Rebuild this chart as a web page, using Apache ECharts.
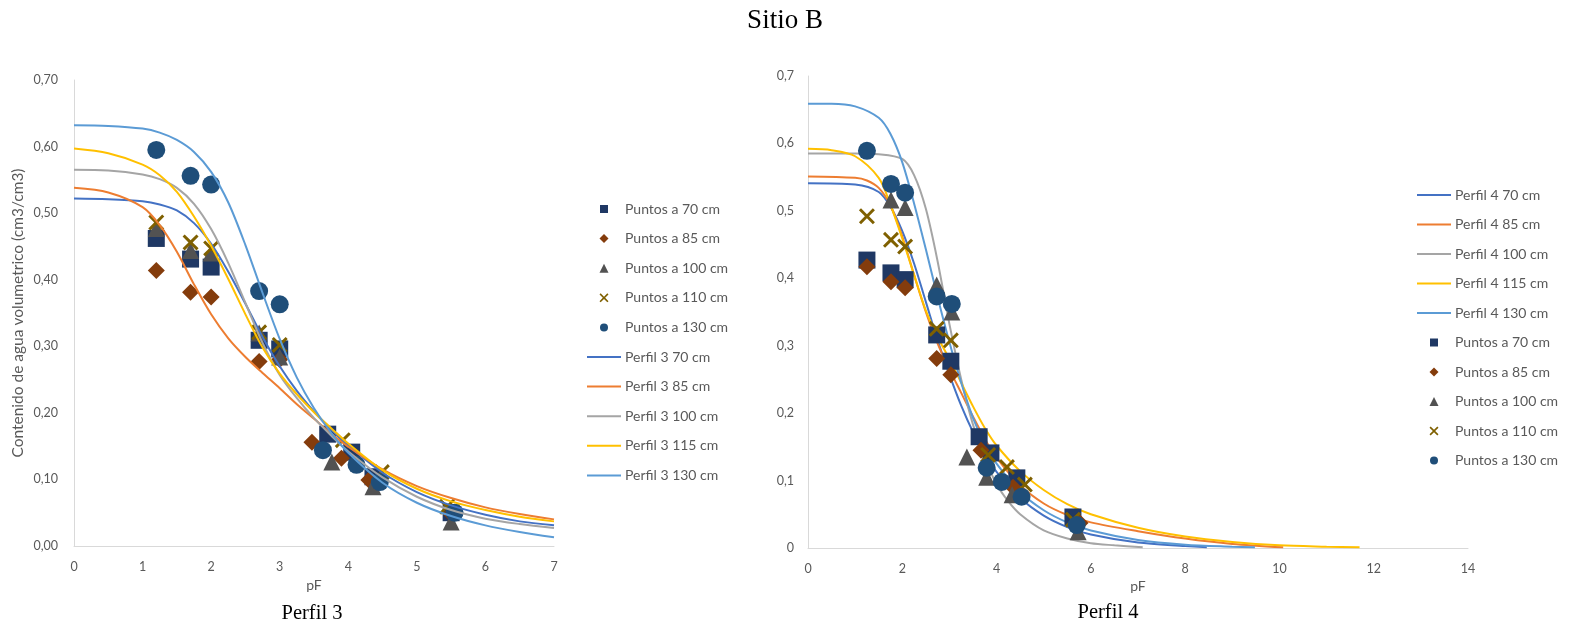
<!DOCTYPE html>
<html>
<head>
<meta charset="utf-8">
<script src="https://cdn.jsdelivr.net/npm/echarts@6/dist/echarts.min.js"></script>
<style>
  html, body { margin: 0; padding: 0; background: #fff; }
  #chart { width: 1570px; height: 630px; }
</style>
</head>
<body>
<div id="chart"></div>
<script>
// ---- Perfil 3: measured points [pF, theta] ----
const p3Pts70  = [[1.2,0.462],[1.7,0.431],[2.0,0.419],[2.7,0.309],[3.0,0.296],[3.7,0.168],[4.05,0.141],[4.36,0.104],[5.5,0.050]];
const p3Pts85  = [[1.2,0.414],[1.7,0.381],[2.0,0.374],[2.7,0.277],[3.0,0.280],[3.47,0.156],[3.9,0.132],[4.3,0.099],[5.5,0.048]];
const p3Pts100 = [[1.2,0.477],[1.7,0.444],[2.0,0.440],[2.7,0.320],[3.0,0.284],[3.76,0.126],[4.36,0.089],[5.5,0.036]];
const p3Pts110 = [[1.2,0.486],[1.7,0.456],[2.0,0.447],[2.7,0.321],[3.0,0.302],[3.92,0.159],[4.49,0.111],[5.44,0.059]];
const p3Pts130 = [[1.2,0.595],[1.7,0.556],[2.0,0.543],[2.7,0.383],[3.0,0.363],[3.63,0.144],[4.12,0.122],[4.46,0.096],[5.55,0.050]];

// ---- Perfil 3: fitted retention curves ----
const p3Grid = [0,0.5,1,1.25,1.5,1.75,2,2.25,2.5,2.75,3,3.25,3.5,3.75,4,4.5,5,5.5,6,6.5,7];
const p3Fit70  = [.522,.521,.518,.513,.504,.485,.454,.412,.364,.314,.270,.233,.202,.175,.151,.110,.081,.061,.047,.037,.031];
const p3Fit85  = [.538,.531,.509,.482,.442,.393,.348,.312,.284,.260,.237,.213,.191,.169,.149,.115,.090,.072,.058,.048,.040];
const p3Fit100 = [.565,.564,.558,.551,.538,.514,.476,.425,.365,.305,.257,.222,.192,.166,.142,.103,.074,.054,.041,.033,.027];
const p3Fit115 = [.597,.590,.573,.557,.532,.495,.451,.401,.348,.298,.259,.228,.201,.177,.154,.114,.086,.067,.054,.044,.037];
const p3Fit130 = [.632,.631,.627,.621,.610,.592,.562,.516,.452,.380,.311,.253,.207,.170,.140,.095,.065,.045,.031,.021,.013];

// ---- Perfil 4: measured points [pF, theta] ----
const p4Pts70  = [[1.25,0.427],[1.76,0.408],[2.06,0.398],[2.73,0.316],[3.03,0.277],[3.63,0.165],[3.88,0.141],[4.43,0.104],[5.62,0.046]];
const p4Pts85  = [[1.25,0.417],[1.76,0.395],[2.06,0.386],[2.73,0.281],[3.03,0.257],[3.67,0.145],[4.35,0.090],[5.77,0.037]];
const p4Pts100 = [[1.76,0.516],[2.06,0.505],[2.73,0.390],[3.05,0.350],[3.37,0.135],[3.79,0.105],[4.33,0.079],[5.73,0.024]];
const p4Pts110 = [[1.25,0.492],[1.76,0.457],[2.06,0.447],[2.73,0.325],[3.03,0.308],[3.82,0.138],[4.22,0.120],[4.6,0.094],[5.62,0.042]];
const p4Pts130 = [[1.25,0.589],[1.76,0.540],[2.06,0.527],[2.73,0.373],[3.05,0.362],[3.79,0.119],[4.11,0.098],[4.53,0.076],[5.7,0.034]];

// ---- Perfil 4: fitted retention curves ----
const p4X70   = [0,1,1.5,1.75,2,2.25,2.5,2.75,3,3.25,3.5,3.75,4,4.5,5,5.5,6,7,8,8.46];
const p4Fit70 = [.541,.539,.528,.506,.470,.422,.365,.308,.257,.211,.172,.140,.113,.074,.048,.031,.020,.008,.003,.001];
const p4X85   = [0,1,1.25,1.5,1.75,2,2.25,2.5,2.75,3,3.25,3.5,3.75,4,4.5,5,5.5,6,7,8,9,10.08];
const p4Fit85 = [.551,.549,.545,.534,.508,.462,.405,.350,.303,.265,.230,.195,.162,.134,.093,.066,.049,.038,.025,.014,.006,.001];
const p4X100   = [0,1,1.5,2,2.25,2.5,2.75,3,3.25,3.5,3.75,4,4.25,4.5,5,5.5,6,6.5,7.1];
const p4Fit100 = [.585,.585,.584,.577,.553,.503,.425,.332,.250,.183,.133,.095,.069,.050,.026,.014,.007,.004,.001];
const p4X115   = [0,0.5,1,1.5,1.75,2,2.25,2.5,2.75,3,3.25,3.5,3.75,4,4.5,5,5.5,6,7,8,9,10,11,11.7];
const p4Fit115 = [.592,.590,.581,.549,.509,.459,.405,.352,.313,.280,.245,.210,.178,.152,.114,.086,.065,.050,.030,.017,.009,.004,.002,.001];
const p4X130   = [0,0.5,1,1.5,1.75,2,2.25,2.5,2.75,3,3.25,3.5,3.75,4,4.5,5,5.5,6,7,8,9,9.48];
const p4Fit130 = [.659,.659,.655,.638,.614,.572,.511,.443,.372,.305,.245,.193,.154,.125,.083,.056,.038,.026,.012,.005,.002,.001];

// ---- labels ----
const pointNames = ['Puntos a 70 cm','Puntos a 85 cm','Puntos a 100 cm','Puntos a 110 cm','Puntos a 130 cm'];
const p3CurveNames = ['Perfil 3 70 cm','Perfil 3 85 cm','Perfil 3 100 cm','Perfil 3 115 cm','Perfil 3 130 cm'];
const p4CurveNames = ['Perfil 4 70 cm','Perfil 4 85 cm','Perfil 4 100 cm','Perfil 4 115 cm','Perfil 4 130 cm'];

// ---- styling ----
const curveColors = ['#4472C4','#ED7D31','#A5A5A5','#FFC000','#5B9BD5'];
const pointColors = ['#1F3864','#843C0C','#525252','#7F6000','#1F4E79'];
const symX = 'path://M0,1.3L1.3,0L5,3.7L8.7,0L10,1.3L6.3,5L10,8.7L8.7,10L5,6.3L1.3,10L0,8.7L3.7,5Z';
const pointSymbols = ['rect','diamond','triangle',symX,'circle'];
const pointSizes = [17,17,17,16,18];
const legendSizes = [8,9,9,9,8];
const sansFont = 'Lato, "Open Sans", "Liberation Sans", sans-serif';
const serifFont = '"Liberation Serif", "DejaVu Serif", serif';
const textGrey = '#595959';

function scatterSeries(name, data, axisIdx, k, z) {
  return {
    type: 'scatter', name, data,
    xAxisIndex: axisIdx, yAxisIndex: axisIdx,
    symbol: pointSymbols[k], symbolSize: pointSizes[k],
    itemStyle: { color: pointColors[k], opacity: 1 },
    emphasis: { disabled: true }, z
  };
}
function curveSeries(name, xs, ys, axisIdx, k, z) {
  return {
    type: 'line', name,
    data: xs.map((x, i) => [x, ys[i]]),
    xAxisIndex: axisIdx, yAxisIndex: axisIdx,
    symbol: 'none', showSymbol: false,
    smooth: 0.3,
    lineStyle: { color: curveColors[k], width: 2 },
    itemStyle: { color: curveColors[k] },
    emphasis: { disabled: true }, z
  };
}

const p3Pts = [p3Pts70, p3Pts85, p3Pts100, p3Pts110, p3Pts130];
const p3Fits = [p3Fit70, p3Fit85, p3Fit100, p3Fit115, p3Fit130];
const p4Pts = [p4Pts70, p4Pts85, p4Pts100, p4Pts110, p4Pts130];
const p4Xs = [p4X70, p4X85, p4X100, p4X115, p4X130];
const p4Fits = [p4Fit70, p4Fit85, p4Fit100, p4Fit115, p4Fit130];

const series = [];
// Perfil 3: points underneath, curves on top
pointNames.forEach((n, k) => series.push(scatterSeries(n, p3Pts[k], 0, k, 2)));
p3CurveNames.forEach((n, k) => series.push(curveSeries(n, p3Grid, p3Fits[k], 0, k, 3)));
// Perfil 4: curves underneath, points on top
p4CurveNames.forEach((n, k) => series.push(curveSeries(n, p4Xs[k], p4Fits[k], 1, k, 2)));
pointNames.forEach((n, k) => series.push(scatterSeries(n, p4Pts[k], 1, k, 3)));

// one legend block per entry so each row sits at a fixed pitch
const legendText = { color: textGrey, fontSize: 14, fontFamily: sansFont, lineHeight: 16 };
function legendPoint(k, iconLeft, textLeft, y) {
  const s = legendSizes[k];
  return {
    data: [{ name: pointNames[k], icon: pointSymbols[k] }],
    left: iconLeft - s / 2, top: y - 8,
    orient: 'vertical', padding: 0, itemGap: 0,
    itemWidth: s, itemHeight: s, selectedMode: false,
    textStyle: { ...legendText, padding: [0, 0, 0, textLeft - (iconLeft + s / 2) - 5] }
  };
}
function legendCurve(name, lineLeft, y) {
  return {
    data: [{ name, icon: 'rect' }],
    left: lineLeft, top: y - 8,
    orient: 'vertical', padding: 0, itemGap: 0,
    itemWidth: 34, itemHeight: 2, selectedMode: false,
    textStyle: { ...legendText, padding: [0, 0, 0, -1] }
  };
}
const legends = [];
// Perfil 3 legend: points first, then curves
pointNames.forEach((n, k) => legends.push(legendPoint(k, 604, 625, 209 + k * 29.6)));
p3CurveNames.forEach((n, k) => legends.push(legendCurve(n, 587, 209 + (k + 5) * 29.6)));
// Perfil 4 legend: curves first, then points
p4CurveNames.forEach((n, k) => legends.push(legendCurve(n, 1417, 195 + k * 29.5)));
pointNames.forEach((n, k) => legends.push(legendPoint(k, 1434, 1455, 195 + (k + 5) * 29.5)));

const axisLabelStyle = { color: textGrey, fontSize: 12.5, fontFamily: sansFont };
const axisLineStyle = { show: true, lineStyle: { color: '#D9D9D9', width: 1 } };

const option = {
  backgroundColor: '#fff',
  animation: false,
  grid: [
    { left: 74, top: 80, width: 480, height: 466 },
    { left: 808, top: 76, width: 660, height: 472 }
  ],
  xAxis: [
    { gridIndex: 0, type: 'value', min: 0, max: 7, interval: 1,
      axisLine: axisLineStyle, axisTick: { show: false }, splitLine: { show: false },
      axisLabel: { ...axisLabelStyle, margin: 14 },
      name: 'pF', nameLocation: 'middle', nameGap: 32,
      nameTextStyle: { color: textGrey, fontSize: 14, fontFamily: sansFont } },
    { gridIndex: 1, type: 'value', min: 0, max: 14, interval: 2,
      axisLine: axisLineStyle, axisTick: { show: false }, splitLine: { show: false },
      axisLabel: { ...axisLabelStyle, margin: 14 },
      name: 'pF', nameLocation: 'middle', nameGap: 30,
      nameTextStyle: { color: textGrey, fontSize: 14, fontFamily: sansFont } }
  ],
  yAxis: [
    { gridIndex: 0, type: 'value', min: 0, max: 0.7, interval: 0.1,
      axisLine: axisLineStyle, axisTick: { show: false }, splitLine: { show: false },
      axisLabel: { ...axisLabelStyle, margin: 16, formatter: v => v.toFixed(2).replace('.', ',') },
      name: 'Contenido de agua volumetrico (cm3/cm3)', nameLocation: 'middle', nameGap: 48, nameRotate: 90,
      nameTextStyle: { color: textGrey, fontSize: 15.5, fontFamily: sansFont } },
    { gridIndex: 1, type: 'value', min: 0, max: 0.7, interval: 0.1,
      axisLine: axisLineStyle, axisTick: { show: false }, splitLine: { show: false },
      axisLabel: { ...axisLabelStyle, margin: 14, formatter: v => v === 0 ? '0' : v.toFixed(1).replace('.', ',') } }
  ],
  legend: legends,
  graphic: [
    { type: 'text', x: 785, y: 21, style: { text: 'Sitio B', font: '27px ' + serifFont, fill: '#000', align: 'center', verticalAlign: 'middle', textAlign: 'center', textVerticalAlign: 'middle' } },
    { type: 'text', x: 312, y: 614, style: { text: 'Perfil 3', font: '20.5px ' + serifFont, fill: '#000', align: 'center', verticalAlign: 'middle', textAlign: 'center', textVerticalAlign: 'middle' } },
    { type: 'text', x: 1108, y: 613, style: { text: 'Perfil 4', font: '20.5px ' + serifFont, fill: '#000', align: 'center', verticalAlign: 'middle', textAlign: 'center', textVerticalAlign: 'middle' } }
  ],
  series
};

const chart = echarts.init(document.getElementById('chart'), null, { renderer: 'canvas' });
chart.setOption(option);
</script>
</body>
</html>
